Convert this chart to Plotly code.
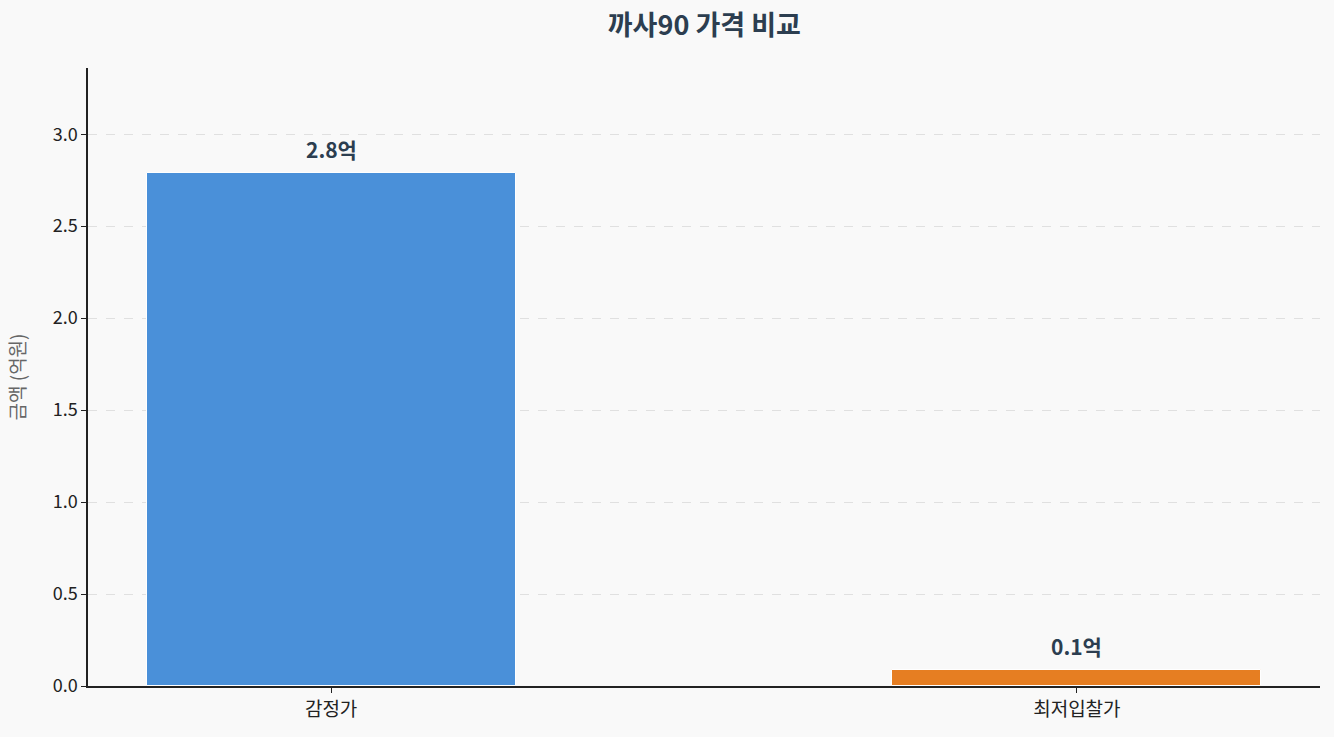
import plotly.graph_objects as go

categories = ["감정가", "최저입찰가"]
values = [2.79, 0.087]
labels = ["2.8억", "0.1억"]
colors = ["#4a90d9", "#e67e22"]
tick_vals = [0.0, 0.5, 1.0, 1.5, 2.0, 2.5, 3.0]
tick_text = ["0.0", "0.5", "1.0", "1.5", "2.0", "2.5", "3.0"]

FONT = "Noto Sans CJK KR"

fig = go.Figure()
fig.add_trace(go.Bar(
    x=[0, 1], y=values, width=0.495,
    marker=dict(color=colors, line=dict(color="white", width=1)),
    hoverinfo="skip",
))

for i, (v, t) in enumerate(zip(values, labels)):
    fig.add_annotation(x=i, y=v, text="<b>%s</b>" % t, showarrow=False,
                       yanchor="bottom", yshift=7,
                       font=dict(family=FONT, size=21, color="#2c3e50"))

fig.update_layout(
    width=1334, height=737,
    paper_bgcolor="#f9f9f9", plot_bgcolor="#f9f9f9",
    margin=dict(l=88, r=14, t=68, b=51),
    showlegend=False,
    title=dict(text="<b>까사90 가격 비교</b>", x=0.528, xanchor="center",
               y=0.965, yanchor="middle",
               font=dict(family=FONT, size=27, color="#2c3e50")),
    font=dict(family=FONT, color="#222222"),
    bargap=0,
)
fig.update_xaxes(
    range=[-0.326, 1.326], tickmode="array", tickvals=[0, 1], ticktext=categories,
    showline=True, linecolor="#222222", linewidth=1.5, ticks="outside",
    ticklen=5, tickcolor="#222222", showgrid=False, zeroline=False,
    automargin=False,
    tickfont=dict(family=FONT, size=19, color="#222222"),
)
fig.update_yaxes(
    range=[0, 3.36], tickmode="array", tickvals=tick_vals, ticktext=tick_text,
    showline=True, linecolor="#222222", linewidth=1.5, ticks="outside",
    ticklen=5, tickcolor="#222222",
    showgrid=True, gridcolor="#e0e0e0", griddash="dash", gridwidth=1,
    zeroline=False, automargin=False,
    tickfont=dict(family=FONT, size=18, color="#222222"),
    title=dict(text="금액 (억원)", standoff=22,
               font=dict(family=FONT, size=19, color="#666666")),
)

fig.write_html(
    "out.html",
    config={"displayModeBar": False, "responsive": False},
    post_script=(
        "document.documentElement.style.overflow='hidden';"
        "document.body.style.overflow='hidden';"
        "document.body.style.margin='0';"
        "document.body.style.background='#f9f9f9';"
    ),
)
